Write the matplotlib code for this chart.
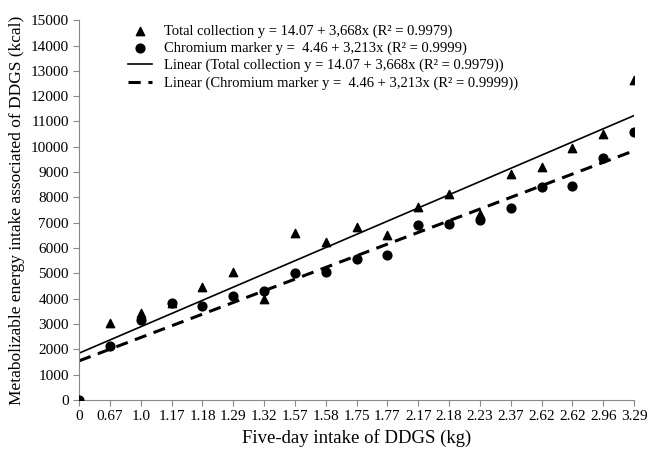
import numpy as np
import matplotlib.pyplot as plt

plt.rcParams['font.family'] = ['Liberation Serif', 'DejaVu Serif']

# categorias do eixo x (consumo de DDGS em 5 dias, kg)
categorias = ['0', '0.67', '1.0', '1.17', '1.18', '1.29', '1.32', '1.57', '1.58', '1.75',
              '1.77', '2.17', '2.18', '2.23', '2.37', '2.62', '2.62', '2.96', '3.29']

# Coleta total (triangulos)
coleta_total = [0, 3050, 3450, 3850, 4480, 5050, 4000, 6580, 6250, 6820,
                6500, 7620, 8120, 7350, 8920, 9220, 9960, 10500, 12620]

# Marcador de cromo (circulos)
marcador_cromo = [0, 2150, 3180, 3830, 3720, 4120, 4300, 5030, 5050, 5560,
                  5720, 6930, 6950, 7120, 7580, 8420, 8470, 9560, 10580]

rotulos = ['Total collection y = 14.07 + 3,668x (R² = 0.9979)',
           'Chromium marker y =  4.46 + 3,213x (R² = 0.9999)',
           'Linear (Total collection y = 14.07 + 3,668x (R² = 0.9979))',
           'Linear (Chromium marker y =  4.46 + 3,213x (R² = 0.9999))']

x = np.arange(len(categorias))

fig = plt.figure(figsize=(6.49, 4.49), dpi=100)
ax = fig.add_axes([0.122, 0.109, 0.855, 0.846])

ax.scatter(x, coleta_total, marker='^', s=36, color='black', zorder=3, label=rotulos[0])
ax.scatter(x, marcador_cromo, marker='o', s=40, color='black', zorder=3, label=rotulos[1])

# Linhas de tendencia
a1, b1 = np.polyfit(x, coleta_total, 1)
a2, b2 = np.polyfit(x, marcador_cromo, 1)
ax.plot(x, a1 * x + b1, color='black', lw=1.2, label=rotulos[2])
ax.plot(x, a2 * x + b2, color='black', lw=2.2, dashes=(4, 2.5), label=rotulos[3])

ax.set_xlim(0, len(categorias) - 1)
ax.set_ylim(0, 15000)
ax.set_yticks(range(0, 15001, 1000))
ax.set_xticks(x)
ax.set_xticklabels(categorias)
ax.tick_params(labelsize=11, color='#888888', length=4)
ax.set_xlabel('Five-day intake of DDGS (kg)', fontsize=13.5)
ax.set_ylabel('Metabolizable energy intake associated of DDGS (kcal)', fontsize=12.5)

for lado in ['top', 'right']:
    ax.spines[lado].set_visible(False)
for lado in ['left', 'bottom']:
    ax.spines[lado].set_color('#888888')

ax.legend(loc='upper left', bbox_to_anchor=(0.182, 0.969), bbox_transform=fig.transFigure,
          frameon=False, fontsize=10.5, handlelength=1.65, labelspacing=0.27,
          handletextpad=0.8, borderaxespad=0.3)

fig.savefig('out.png', dpi=100)
